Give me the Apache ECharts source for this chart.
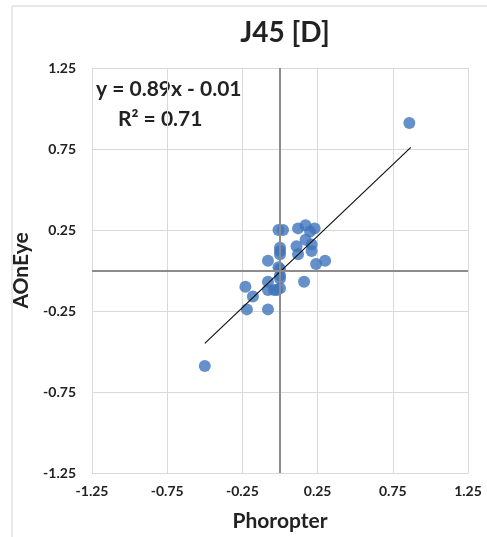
<!DOCTYPE html>
<html>
<head>
<meta charset="utf-8">
<script src="https://cdn.jsdelivr.net/npm/echarts@6/dist/echarts.min.js"></script>
<style>
  html, body { margin: 0; padding: 0; background: #fff; }
  #chart { width: 487px; height: 537px; }
</style>
</head>
<body>
<div id="chart"></div>
<script>
// Phoropter (x) vs AOnEye (y), J45 in dioptres
const phoropter = [-0.50, 0.86, -0.01, 0.02, 0.12, 0.17, 0.23, 0.20, 0.17, 0.21, 0.11, 0.21, 0.12,
    0.00, 0.00, 0.00, -0.08, -0.01, 0.00, 0.24, 0.30, 0.00, 0.00, -0.08, 0.16, -0.23, -0.04,
    0.00, -0.08, -0.02, -0.18, -0.22, -0.08];
const aoneye = [-0.59, 0.91, 0.25, 0.25, 0.26, 0.28, 0.26, 0.24, 0.19, 0.16, 0.15, 0.12, 0.10,
    0.14, 0.10, 0.12, 0.06, 0.02, 0.01, 0.04, 0.06, -0.03, -0.05, -0.07, -0.07, -0.10, -0.12,
    -0.11, -0.12, -0.12, -0.16, -0.24, -0.24];
const trendX = [-0.50, 0.87];
const trendY = [-0.45, 0.76];
const axisTicks = [-1.25, -0.75, -0.25, 0.25, 0.75, 1.25];

const font = 'Lato, "Open Sans", sans-serif';
const points = phoropter.map((x, i) => [x, aoneye[i]]);
const trend = trendX.map((x, i) => [x, trendY[i]]);

const chart = echarts.init(document.getElementById('chart'));

const valueAxis = (name, gap, margin) => ({
    type: 'value',
    min: axisTicks[0],
    max: axisTicks[axisTicks.length - 1],
    interval: 0.5,
    name: name,
    nameLocation: 'middle',
    nameGap: gap,
    nameTextStyle: {fontFamily: font, fontWeight: 'bold', fontSize: 21, color: '#222'},
    axisLine: {show: false},
    axisTick: {show: false},
    axisLabel: {
        fontFamily: font, fontWeight: 'bold', fontSize: 14, color: '#222', margin: margin,
        formatter: v => v.toFixed(2)
    },
    splitLine: {lineStyle: {color: '#d9d9d9', width: 1}}
});

chart.setOption({
    animation: false,
    title: {
        text: 'J45 [D]',
        left: 280,
        top: 14,
        textAlign: 'center',
        textStyle: {fontFamily: font, fontWeight: 'bold', fontSize: 28, color: '#222'}
    },
    grid: {left: 92, top: 68, width: 376, height: 408},
    xAxis: valueAxis('Phoropter', 38, 11),
    yAxis: valueAxis('AOnEye', 52, 16),
    graphic: [
        {type: 'rect', shape: {x: 12, y: 6, width: 490, height: 540},
            style: {fill: 'none', stroke: '#d0d0d0', lineWidth: 1}, silent: true},
        {type: 'text', left: 96, top: 79,
            style: {text: 'y = 0.89x - 0.01', fontFamily: font, fontWeight: 'bold', fontSize: 21, fill: '#222'}},
        {type: 'text', left: 118, top: 109,
            style: {text: 'R² = 0.71', fontFamily: font, fontWeight: 'bold', fontSize: 21, fill: '#222'}}
    ],
    series: [
        {
            type: 'line',
            data: trend,
            symbol: 'none',
            lineStyle: {color: '#111', width: 1.2},
            silent: true,
            markLine: {
                silent: true,
                symbol: 'none',
                label: {show: false},
                lineStyle: {color: '#8c8c8c', width: 2, type: 'solid'},
                data: [{xAxis: 0}, {yAxis: 0}]
            },
            z: 3
        },
        {
            type: 'scatter',
            data: points,
            symbolSize: 12,
            itemStyle: {color: '#3f74bb'},
            z: 2
        }
    ]
});
</script>
</body>
</html>
